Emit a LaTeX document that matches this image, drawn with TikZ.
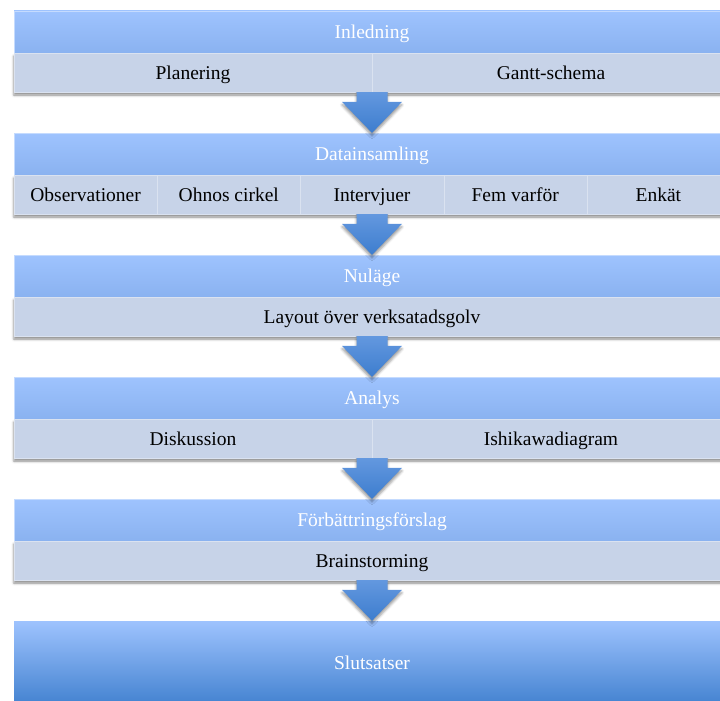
\documentclass[tikz,border=0pt]{standalone}
\usepackage{fontspec}
\setmainfont{Liberation Serif}
\usetikzlibrary{calc,shadows.blur}

\definecolor{hdrtop}{HTML}{9EC3FE}
\definecolor{hdrbot}{HTML}{8AB2F0}
\definecolor{cellfill}{HTML}{C7D3E8}
\definecolor{cellline}{HTML}{DAE2F0}
\definecolor{endbot}{HTML}{4382D0}
\definecolor{arrtop}{HTML}{6398DF}
\definecolor{arrbot}{HTML}{3D7DCE}

\begin{document}
\begin{tikzpicture}[
    x=1pt, y=-1pt,
    font=\fontsize{19.5}{23}\selectfont,
    head/.style={
        minimum width=716pt,
        minimum height=42pt,
        inner sep=0pt,
        text height=13pt,
        text depth=0pt,
        top color=hdrtop,
        bottom color=hdrbot,
        draw=hdrtop!60!white,
        very thin,
        text=white
    },
    cell/.style={
        minimum height=39pt,
        inner sep=0pt,
        text height=13pt,
        text depth=0pt,
        fill=cellfill,
        draw=cellline,
        very thin,
        text=black
    },
    rowshade/.style={
        fill=cellfill,
        blur shadow={shadow xshift=0pt, shadow yshift=-3pt,
            shadow blur radius=2.5pt, shadow opacity=45}
    },
    last/.style={
        minimum width=716pt,
        minimum height=84pt,
        inner sep=0pt,
        text height=13pt,
        text depth=0pt,
        top color=hdrtop,
        bottom color=endbot,
        text=white
    },
    flow/.style={
        top color=arrtop,
        bottom color=arrbot,
        blur shadow={shadow xshift=0pt, shadow yshift=-3pt,
            shadow blur radius=2.5pt, shadow opacity=40},
        to path={let \p1=(\tikztostart), \p2=(\tikztotarget) in
            (\x1-15.5pt,\y1) -- (\x1+15.5pt,\y1) -- (\x1+15.5pt,\y2+31pt)
            -- (\x1+30pt,\y2+31pt) -- (\x1,\y2) -- (\x1-30pt,\y2+31pt)
            -- (\x1-15.5pt,\y2+31pt) -- cycle}
    }
]
\useasboundingbox (0,0) rectangle (720,701);
\clip (0,0) rectangle (720,701);

% Inledning
\node[head] (inl) at (372,32) {Inledning};
\path[rowshade] (inl.south west) rectangle ++(716,39);
\node[cell, minimum width=358pt] (plan) at (193,72.5) {Planering};
\node[cell, minimum width=358pt] (gantt) at (551,72.5) {Gantt-schema};

% Datainsamling
\node[head] (data) at (372,154) {Datainsamling};
\path[rowshade] (data.south west) rectangle ++(716,39);
\node[cell, minimum width=143.2pt] (obs) at (85.6,194.5) {Observationer};
\node[cell, minimum width=143.2pt] (ohno) at (228.8,194.5) {Ohnos cirkel};
\node[cell, minimum width=143.2pt] (interv) at (372,194.5) {Intervjuer};
\node[cell, minimum width=143.2pt] (fem) at (515.2,194.5) {Fem varför};
\node[cell, minimum width=143.2pt] (enkat) at (658.4,194.5) {Enkät};

% Nuläge
\node[head] (nul) at (372,276) {Nuläge};
\path[rowshade] (nul.south west) rectangle ++(716,39);
\node[cell, minimum width=716pt] (layout) at (372,316.5) {Layout över verksatadsgolv};

% Analys
\node[head] (anal) at (372,398) {Analys};
\path[rowshade] (anal.south west) rectangle ++(716,39);
\node[cell, minimum width=358pt] (disk) at (193,438.5) {Diskussion};
\node[cell, minimum width=358pt] (ishi) at (551,438.5) {Ishikawadiagram};

% Förbättringsförslag
\node[head] (forb) at (372,520) {Förbättringsförslag};
\path[rowshade] (forb.south west) rectangle ++(716,39);
\node[cell, minimum width=716pt] (brain) at (372,560.5) {Brainstorming};

% Slutsatser
\node[last] (slut) at (372,663) {Slutsatser};

\path[flow] (inl |- plan.south) to (data.north);
\path[flow] (data |- interv.south) to (nul.north);
\path[flow] (layout.south) to (anal.north);
\path[flow] (anal |- disk.south) to (forb.north);
\path[flow] (brain.south) to (slut.north);

\end{tikzpicture}
\end{document}
